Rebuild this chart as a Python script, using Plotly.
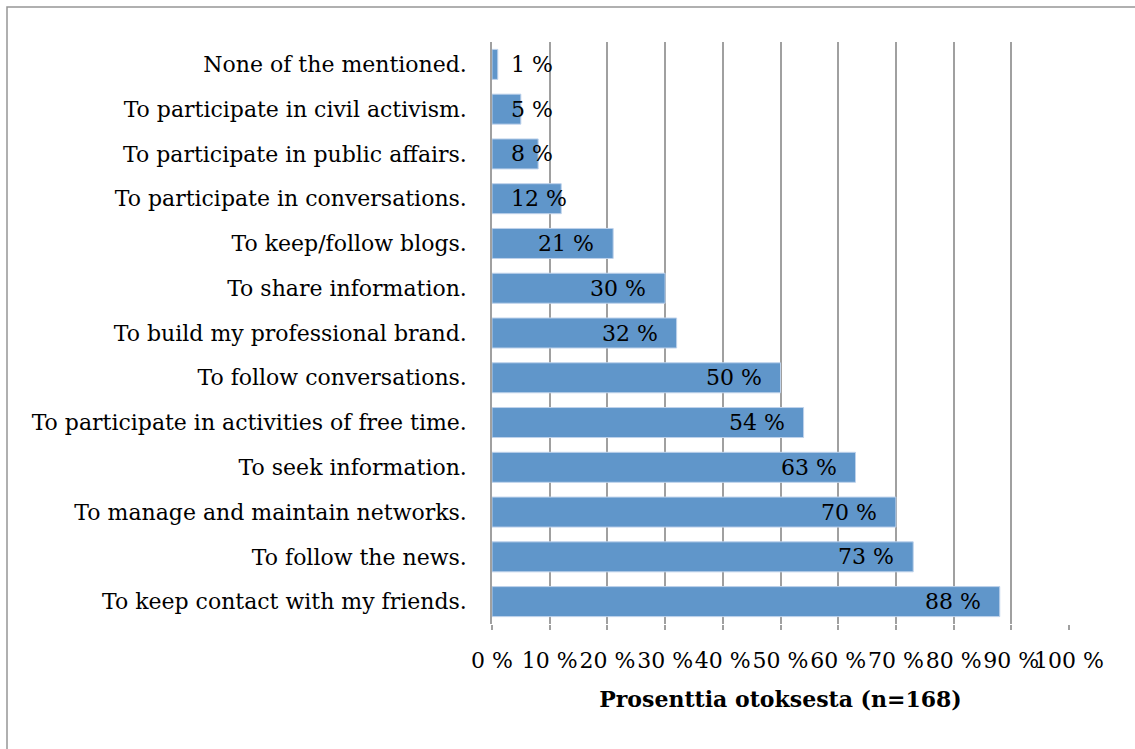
import plotly.graph_objects as go

# Survey: reasons for using social media (share of respondents, %)
categories = [
    "None of the mentioned.",
    "To participate in civil activism.",
    "To participate in public affairs.",
    "To participate in conversations.",
    "To keep/follow blogs.",
    "To share information.",
    "To build my professional brand.",
    "To follow conversations.",
    "To participate in activities of free time.",
    "To seek information.",
    "To manage and maintain networks.",
    "To follow the news.",
    "To keep contact with my friends.",
]
values = [1, 5, 8, 12, 21, 30, 32, 50, 54, 63, 70, 73, 88]
tick_vals = list(range(0, 101, 10))
tick_text = [f"{v} %" for v in tick_vals]
axis_title = "Prosenttia otoksesta (n=168)"

W, H = 1135, 749
ML, MR, MT, MB = 492, 66, 42, 125
PW = W - ML - MR
PH = H - MT - MB
FONT = "DejaVu Serif"
FS = 22
BAR = "rgb(96,150,202)"
GRID = "rgb(160,160,160)"

fig = go.Figure(
    go.Bar(
        x=values,
        y=categories,
        orientation="h",
        marker=dict(color=BAR, line=dict(color="rgb(190,210,235)", width=1)),
        width=0.67,
        hoverinfo="skip",
    )
)

# value labels: inside the bar end, or pinned to the axis start for short bars
px_per_unit = PW / 100.0
for cat, v in zip(categories, values):
    txt = f"{v} %"
    est_w = 14 * len(txt)
    if v * px_per_unit - 19 < est_w + 19:
        fig.add_annotation(x=0, y=cat, text=txt, showarrow=False, xanchor="left",
                           xshift=17, font=dict(family=FONT, size=FS, color="black"))
    else:
        fig.add_annotation(x=v, y=cat, text=txt, showarrow=False, xanchor="right",
                           xshift=-17, font=dict(family=FONT, size=FS, color="black"))

# outer chart border
fig.add_shape(type="rect", xref="paper", yref="paper",
              x0=(7 - ML) / PW, x1=(W + 20 - ML) / PW,
              y0=-(H + 20 - (MT + PH)) / PH, y1=1 + (MT - 7) / PH,
              line=dict(color="rgb(150,150,150)", width=1.5), fillcolor="rgba(0,0,0,0)",
              layer="below")

fig.update_layout(
    width=W, height=H,
    margin=dict(l=ML, r=MR, t=MT, b=MB),
    paper_bgcolor="white", plot_bgcolor="white",
    showlegend=False,
    font=dict(family=FONT, size=FS, color="black"),
    xaxis=dict(
        range=[0, 100], tickvals=tick_vals, ticktext=tick_text, tickangle=0,
        showgrid=True, gridcolor=GRID, gridwidth=1.5, zeroline=False,
        ticks="outside", ticklen=5, tickcolor=GRID, tickwidth=1.5,
        ticklabelstandoff=12,
        title=dict(text=f"<b>{axis_title}</b>", standoff=19,
                   font=dict(family=FONT, size=FS)),
        fixedrange=True,
    ),
    yaxis=dict(
        autorange="reversed", showline=True, linecolor=GRID, linewidth=1.5,
        ticks="", ticklabelstandoff=19, showgrid=False, fixedrange=True,
    ),
    bargap=0.33,
)

fig.write_html("out.html")
